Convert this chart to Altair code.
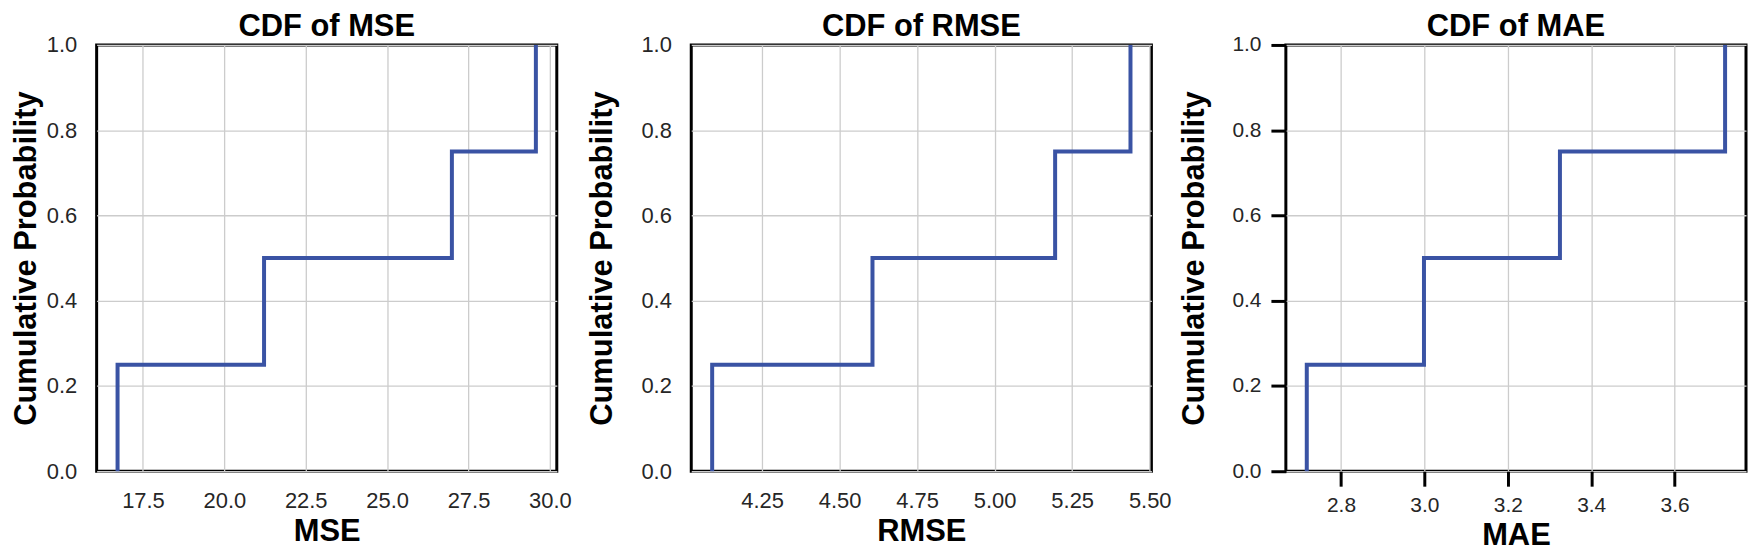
import altair as alt
import pandas as pd

# ---- data ----
mse_values = [16.72, 21.22, 26.99, 29.57]
rmse_values = [4.089, 4.606, 5.195, 5.438]
mae_values = [2.718, 2.999, 3.325, 3.721]

mse_ticks = [17.5, 20.0, 22.5, 25.0, 27.5, 30.0]
rmse_ticks = [4.25, 4.50, 4.75, 5.00, 5.25, 5.50]
mae_ticks = [2.8, 3.0, 3.2, 3.4, 3.6]
y_ticks = [0.0, 0.2, 0.4, 0.6, 0.8, 1.0]

FONT = "Liberation Sans"
LINE_COLOR = "#3A53A4"


def ecdf_frame(values):
    vals = sorted(values)
    n = len(vals)
    xs = [vals[0]] + vals
    ps = [0.0] + [(i + 1) / n for i in range(n)]
    return pd.DataFrame({"x": xs, "p": ps, "order": list(range(n + 1))})


def panel(name, values, ticks, fmt, show_ticks, title_pad, label_size):
    df = ecdf_frame(values)
    lo, hi = min(values), max(values)
    m = 0.05 * (hi - lo)
    tick_kw = dict(ticks=True, tickSize=15, tickWidth=3, tickColor="black") if show_ticks else dict(ticks=False)
    pad = 10 if show_ticks else 20
    xpad = 8 if show_ticks else 19
    return (
        alt.Chart(df)
        .mark_line(interpolate="step-after", color=LINE_COLOR, strokeWidth=4)
        .encode(
            x=alt.X(
                "x:Q",
                scale=alt.Scale(domain=[lo - m, hi + m], nice=False, zero=False),
                axis=alt.Axis(
                    values=ticks, format=fmt, title=name, labelPadding=xpad,
                    labelFontSize=label_size, titlePadding=6, **tick_kw,
                ),
            ),
            y=alt.Y(
                "p:Q",
                scale=alt.Scale(domain=[0, 1], nice=False),
                axis=alt.Axis(
                    values=y_ticks, format=".1f", title="Cumulative Probability",
                    labelPadding=pad, labelFontSize=label_size, titlePadding=title_pad, **tick_kw,
                ),
            ),
            order="order:Q",
        )
        .properties(
            width=462,
            height=428,
            title=alt.TitleParams(
                text=f"CDF of {name}", font=FONT, fontSize=31, fontWeight="bold",
                color="black", anchor="middle", frame="group", offset=-33,
                baseline="alphabetic",
            ),
        )
    )


p1 = panel("MSE", mse_values, mse_ticks, ".1f", False, 4, 22)
p2 = panel("RMSE", rmse_values, rmse_ticks, ".2f", False, 22, 22)
p3 = panel("MAE", mae_values, mae_ticks, ".1f", True, 21, 21)

chart = (
    alt.hconcat(p1, p2, p3, spacing=135, bounds="flush")
    .properties(padding={"left": 0, "top": 0, "right": 0, "bottom": 0}, background="white")
    .configure_view(stroke="black", strokeWidth=3)
    .configure_axis(
        grid=True, gridColor="#cccccc", gridWidth=1.3, domain=False,
        labelFont=FONT, labelColor="#262626", labelFlush=False, labelOverlap=False,
        titleFont=FONT, titleFontSize=31, titleFontWeight="bold", titleColor="black",
    )
)

chart.save("out.html", embed_options={"renderer": "svg", "actions": False})
